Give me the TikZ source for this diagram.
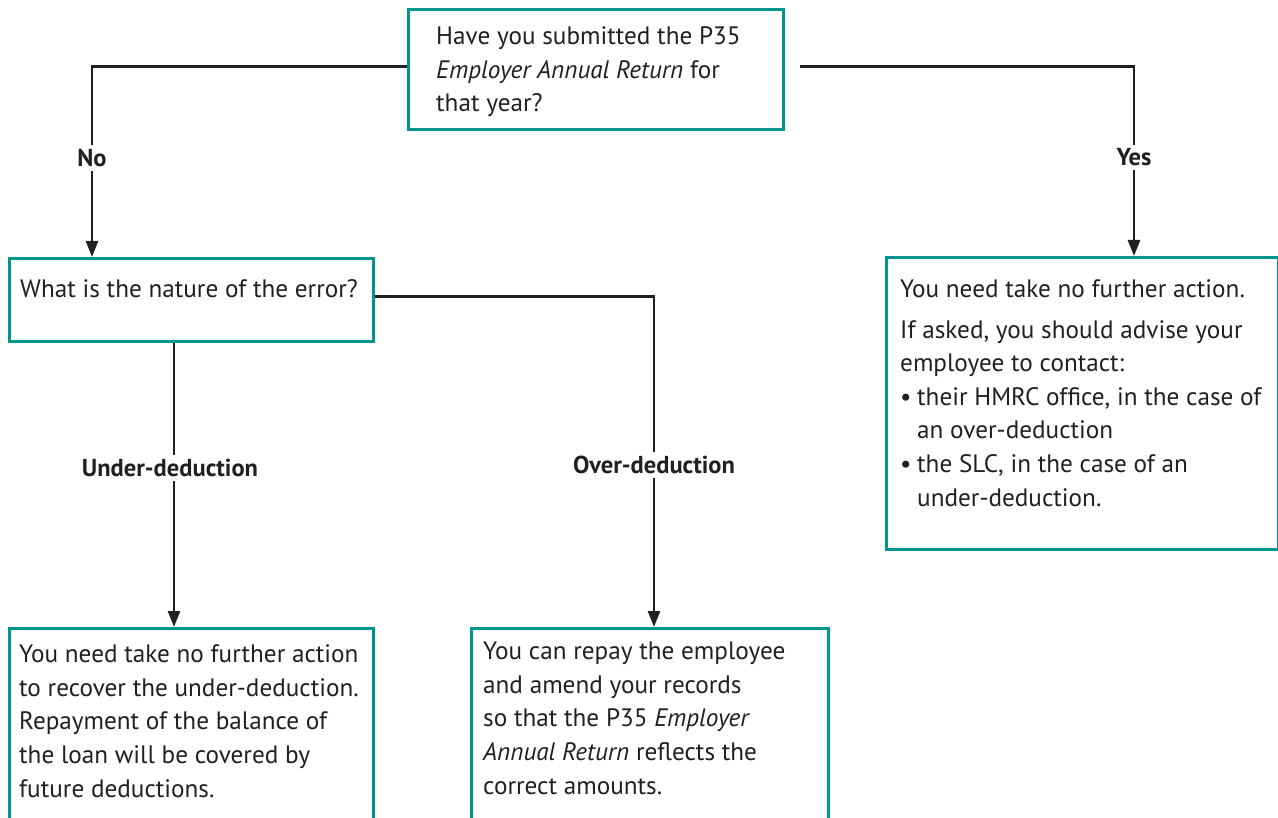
\documentclass[tikz,border=0pt]{standalone}
\usepackage{fontspec}
\setmainfont{PT Sans}
\usetikzlibrary{arrows.meta}
\definecolor{boxteal}{HTML}{00968F}
\definecolor{ink}{HTML}{231F20}
\begin{document}
\begin{tikzpicture}[x=1pt,y=-1pt,
  box/.style={draw=boxteal, line width=2.6pt, anchor=north west, inner sep=0pt},
  % text blocks are placed by the baseline of their last line
  txt/.style={anchor=base west, inner sep=0pt, align=left, text=ink,
    font=\fontsize{25.2}{33.6}\selectfont},
  conn/.style={draw=ink, line width=2.7pt, -{Triangle[length=16pt,width=12pt]}},
  lbl/.style={fill=white, inner sep=4pt, text=ink, font=\fontsize{24.5}{28}\selectfont\bfseries}]
  \useasboundingbox (0,0) rectangle (1278,818);
  \clip (0,0) rectangle (1278,818);
  \fill[white] (0,0) rectangle (1278,818);

  % boxes
  \node[box, minimum width=375, minimum height=120] (top) at (407,8) {};
  \node[box, minimum width=364, minimum height=83] (nature) at (8,257) {};
  \node[box, minimum width=392, minimum height=292] (noaction) at (885,256) {};
  \node[box, minimum width=364, minimum height=230] (under) at (8,627) {};
  \node[box, minimum width=357, minimum height=230] (over) at (470,627) {};

  % box texts
  \node[txt] (topText) at (436,112) {Have you submitted the P35\\
    \emph{Employer Annual Return} for\\that year?};
  \node[txt] (natureText) at (20,298) {What is the nature of the error?};
  \node[txt] (noactionText) at (900,506) {You need take no further action.\\[7pt]
    If asked, you should advise your\\
    employee to contact:\\
    \makebox[17pt][l]{\textbullet}their HMRC office, in the case of\\
    \hspace*{17pt}an over-deduction\\
    \makebox[17pt][l]{\textbullet}the SLC, in the case of an\\
    \hspace*{17pt}under-deduction.};
  \node[txt] (underText) at (19,797) {You need take no further action\\
    to recover the under-deduction.\\
    Repayment of the balance of\\
    the loan will be covered by\\
    future deductions.};
  \node[txt] (overText) at (483,794) {You can repay the employee\\
    and amend your records\\
    so that the P35 \emph{Employer}\\
    \emph{Annual Return} reflects the\\
    correct amounts.};

  % connectors
  \draw[conn] ([yshift=3]top.west) -| node[lbl, pos=0.74] (noLbl) {No}
    ([xshift=84]nature.north west);
  \draw[conn, shorten <=15pt] ([yshift=3]top.east) -| node[lbl, pos=0.74] (yesLbl) {Yes}
    ([xshift=249]noaction.north west);
  \draw[conn] ([yshift=3]nature.east) -| node[lbl, pos=0.755] (overLbl) {Over-deduction}
    ([xshift=184]over.north west);
  \draw[conn] ([xshift=166]nature.south west) -- node[lbl, pos=0.44, xshift=-4] (underLbl) {Under-deduction}
    ([xshift=166]under.north west);
\end{tikzpicture}
\end{document}
